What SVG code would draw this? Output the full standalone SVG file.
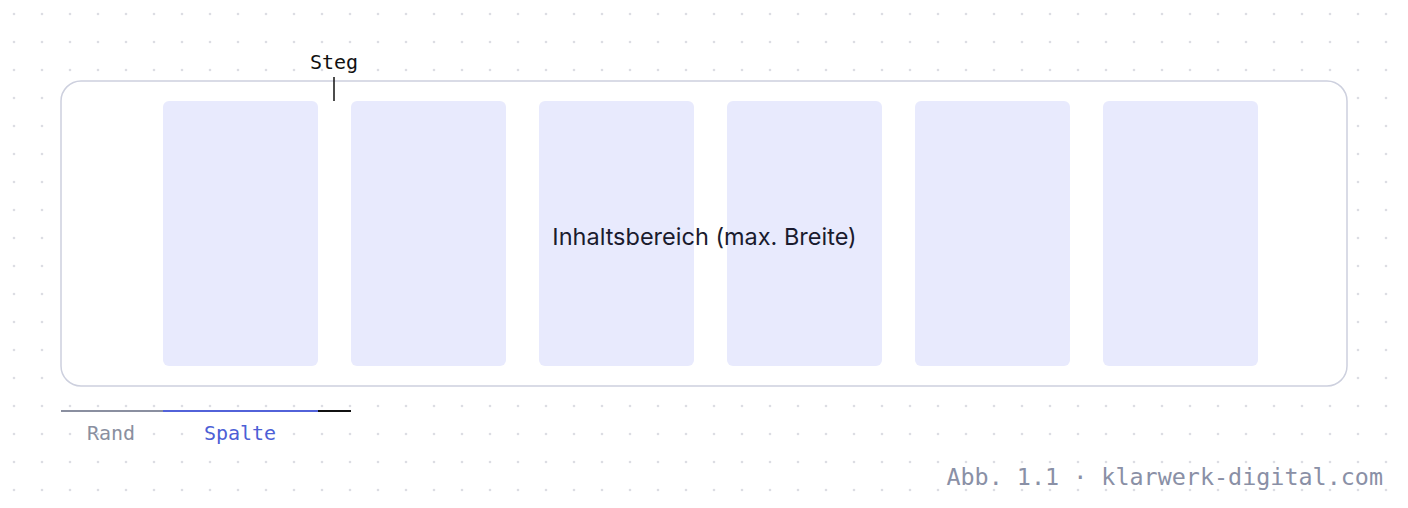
<svg xmlns="http://www.w3.org/2000/svg" width="1408" height="508" viewBox="0 0 1408 508">
<defs>
<pattern id="dots" x="0" y="0" width="28" height="28" patternUnits="userSpaceOnUse">
<circle cx="14" cy="14" r="1.3" fill="#dcdde3"/>
</pattern>
<style>
.col{fill:#e8eafd}
.mono{font-family:"DejaVu Sans Mono","Liberation Mono",monospace}
</style>
</defs>
<rect width="1408" height="508" fill="#ffffff"/>
<rect width="1408" height="508" fill="url(#dots)"/>
<g id="container">
<rect x="61" y="81" width="1286" height="305" rx="20" fill="#ffffff" stroke="#cdd0de" stroke-width="1.5"/>
<g id="columns">
<rect class="col" x="163" y="101" width="155" height="265" rx="6"/>
<rect class="col" x="351" y="101" width="155" height="265" rx="6"/>
<rect class="col" x="539" y="101" width="155" height="265" rx="6"/>
<rect class="col" x="727" y="101" width="155" height="265" rx="6"/>
<rect class="col" x="915" y="101" width="155" height="265" rx="6"/>
<rect class="col" x="1103" y="101" width="155" height="265" rx="6"/>
</g>
<text x="704.5" y="245" text-anchor="middle" font-family="Inter, 'Liberation Sans', sans-serif" font-size="23.5" fill="#1a1b2e">Inhaltsbereich (max. Breite)</text>
</g>
<g id="connectors">
<line x1="334" y1="77" x2="334" y2="101" stroke="#111111" stroke-width="1.5"/>
<line x1="61" y1="411" x2="163" y2="411" stroke="#8a8fa0" stroke-width="2"/>
<line x1="163" y1="411" x2="318" y2="411" stroke="#5262d9" stroke-width="2"/>
<line x1="318" y1="411" x2="351" y2="411" stroke="#111111" stroke-width="2"/>
</g>
<g id="labels">
<text class="mono" x="334" y="69" text-anchor="middle" font-size="20" fill="#111111">Steg</text>
<text class="mono" x="111" y="440" text-anchor="middle" font-size="20" fill="#8a8fa0">Rand</text>
<text class="mono" x="240" y="440" text-anchor="middle" font-size="20" fill="#4d5fd6">Spalte</text>
<text class="mono" x="1383" y="485" text-anchor="end" font-size="23.4" fill="#8a90a6">Abb. 1.1 · klarwerk-digital.com</text>
</g>
</svg>
